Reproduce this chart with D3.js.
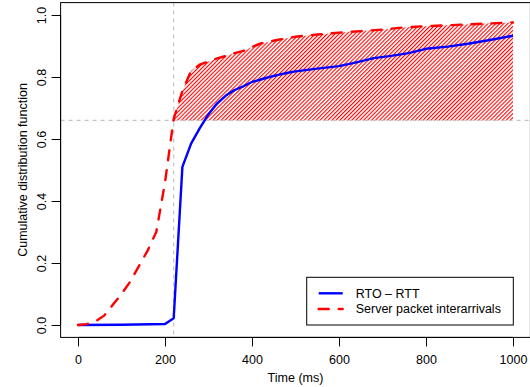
<!DOCTYPE html>
<html>
<head>
<meta charset="utf-8">
<script src="https://cdn.jsdelivr.net/npm/d3@7"></script>
<style>
  body { margin: 0; background: #fff; }
  text { font-family: "Liberation Sans", Arial, Helvetica, sans-serif; }
</style>
</head>
<body>
<div id="chart"></div>
<script>
// RTO - RTT (blue, solid)
var rttTimes = [0, 100, 200, 220, 240, 260, 280, 300, 320, 340, 360, 380, 400, 420, 440, 460, 480, 500, 550, 600, 640, 680, 720, 760, 800, 850, 900, 950, 1000];
var rttCdf   = [0, 0.001, 0.003, 0.022, 0.51, 0.585, 0.635, 0.68, 0.715, 0.74, 0.758, 0.77, 0.784, 0.792, 0.8, 0.807, 0.813, 0.818, 0.827, 0.835, 0.847, 0.861, 0.868, 0.877, 0.891, 0.898, 0.908, 0.92, 0.933];

// server packet interarrivals (red, dashed)
var srvTimes = [0, 20, 40, 60, 80, 100, 120, 140, 160, 180, 200, 220, 240, 260, 280, 300, 320, 340, 360, 380, 400, 420, 440, 460, 500, 550, 600, 650, 700, 750, 800, 850, 900, 950, 1000];
var srvCdf   = [0, 0.003, 0.012, 0.03, 0.065, 0.1, 0.14, 0.19, 0.24, 0.3, 0.46, 0.665, 0.755, 0.82, 0.84, 0.85, 0.86, 0.868, 0.877, 0.884, 0.897, 0.908, 0.914, 0.92, 0.93, 0.937, 0.943, 0.948, 0.953, 0.96, 0.964, 0.967, 0.97, 0.973, 0.976];

var xTicks = [0, 200, 400, 600, 800, 1000];
var yTicks = [0, 0.2, 0.4, 0.6, 0.8, 1.0];
var cutTime = 220;   // vertical reference
var cutCdf = 0.66;   // horizontal reference
var legendLabels = ["RTO \u2013 RTT", "Server packet interarrivals"];

function draw() {
  var W = 530, H = 387;
  var pLeft = 60.6, pRight = 530.4, pTop = 2.6, pBottom = 337.4;

  var svg = d3.select("#chart").append("svg")
    .attr("width", W).attr("height", H);

  var x = d3.scaleLinear().domain([-40, 1040]).range([pLeft, pRight]);
  var y = d3.scaleLinear().domain([-0.04, 1.04]).range([pBottom, pTop]);

  // hatch pattern for shaded area
  var pat = svg.append("defs").append("pattern")
    .attr("id", "hatch")
    .attr("patternUnits", "userSpaceOnUse")
    .attr("width", 2.8).attr("height", 2.8)
    .attr("patternTransform", "rotate(45)");
  pat.append("rect").attr("width", 2.8).attr("height", 2.8).attr("fill", "#fff");
  pat.append("line")
    .attr("x1", 0).attr("y1", 0).attr("x2", 0).attr("y2", 2.8)
    .attr("stroke", "#ff0000").attr("stroke-width", 2.2);

  var srv = srvTimes.map(function (t, i) { return [t, srvCdf[i]]; });
  var rtt = rttTimes.map(function (t, i) { return [t, rttCdf[i]]; });

  // shaded area above the 0.66 line, right of 220 ms
  var shade = srv.filter(function (d) { return d[0] >= cutTime; });
  var area = d3.area()
    .x(function (d) { return x(d[0]); })
    .y0(y(cutCdf))
    .y1(function (d) { return y(d[1]); });
  svg.append("path")
    .datum(shade)
    .attr("d", area)
    .attr("fill", "url(#hatch)")
    .attr("stroke", "none");

  // reference lines
  svg.append("line")
    .attr("x1", x(cutTime)).attr("x2", x(cutTime))
    .attr("y1", pTop).attr("y2", pBottom)
    .attr("stroke", "#c4c4c4").attr("stroke-width", 1.2)
    .attr("stroke-dasharray", "4,4");
  svg.append("line")
    .attr("x1", pLeft).attr("x2", pRight)
    .attr("y1", y(cutCdf)).attr("y2", y(cutCdf))
    .attr("stroke", "#c4c4c4").attr("stroke-width", 1.2)
    .attr("stroke-dasharray", "4,4");

  var line = d3.line()
    .x(function (d) { return x(d[0]); })
    .y(function (d) { return y(d[1]); });

  svg.append("path")
    .datum(rtt)
    .attr("d", line)
    .attr("fill", "none")
    .attr("stroke", "#0000ff")
    .attr("stroke-width", 2.4)
    .attr("stroke-linejoin", "round");

  svg.append("path")
    .datum(srv)
    .attr("d", line)
    .attr("fill", "none")
    .attr("stroke", "#ff0000")
    .attr("stroke-width", 2.4)
    .attr("stroke-linecap", "round")
    .attr("stroke-dasharray", "10,10");

  // box
  svg.append("rect")
    .attr("x", pLeft).attr("y", pTop)
    .attr("width", pRight - pLeft).attr("height", pBottom - pTop)
    .attr("fill", "none").attr("stroke", "#000").attr("stroke-width", 1);

  // axes
  var xAxis = svg.append("g")
    .attr("transform", "translate(0," + pBottom + ")")
    .call(d3.axisBottom(x).tickValues(xTicks).tickSize(9).tickSizeOuter(0).tickPadding(9)
      .tickFormat(d3.format("d")));
  var yAxis = svg.append("g")
    .attr("transform", "translate(" + pLeft + ",0)")
    .call(d3.axisLeft(y).tickValues(yTicks).tickSize(9).tickSizeOuter(0)
      .tickFormat(d3.format(".1f")));

  [xAxis, yAxis].forEach(function (g) {
    g.select(".domain").attr("stroke", "#000");
    g.selectAll(".tick line").attr("stroke", "#000");
    g.selectAll("text").attr("font-size", "12.5px").attr("fill", "#000")
      .attr("font-family", "'Liberation Sans', Arial, sans-serif");
  });
  xAxis.select(".domain").attr("d", "M" + x(0) + ",0H" + x(1000));
  yAxis.select(".domain").attr("d", "M0," + y(0) + "V" + y(1));

  yAxis.selectAll(".tick text")
    .attr("x", 0).attr("dy", null).attr("y", 0)
    .attr("text-anchor", "middle")
    .attr("transform", "translate(-15,0) rotate(-90)");

  // axis titles
  svg.append("text")
    .attr("x", x(500)).attr("y", 382)
    .attr("text-anchor", "middle")
    .attr("font-size", "12.5px")
    .text("Time (ms)");
  svg.append("text")
    .attr("transform", "translate(27," + y(0.5) + ") rotate(-90)")
    .attr("text-anchor", "middle")
    .attr("font-size", "12.5px")
    .text("Cumulative distribution function");

  // legend
  var lg = svg.append("g").attr("transform", "translate(306.7,277.3)");
  lg.append("rect")
    .attr("width", 206.6).attr("height", 47.7)
    .attr("fill", "#fff").attr("stroke", "#000").attr("stroke-width", 1);
  var colors = ["#0000ff", "#ff0000"];
  var dashes = [null, "10,10"];
  legendLabels.forEach(function (lab, i) {
    var yy = 16 + i * 15.7;
    lg.append("line")
      .attr("x1", 12).attr("x2", 36)
      .attr("y1", yy).attr("y2", yy)
      .attr("stroke", colors[i]).attr("stroke-width", 2.4)
      .attr("stroke-linecap", dashes[i] ? "round" : "butt")
      .attr("stroke-dasharray", dashes[i]);
    lg.append("text")
      .attr("x", 49).attr("y", yy + 4.5)
      .attr("font-size", "12.5px")
      .text(lab);
  });
}

draw();
</script>
</body>
</html>
